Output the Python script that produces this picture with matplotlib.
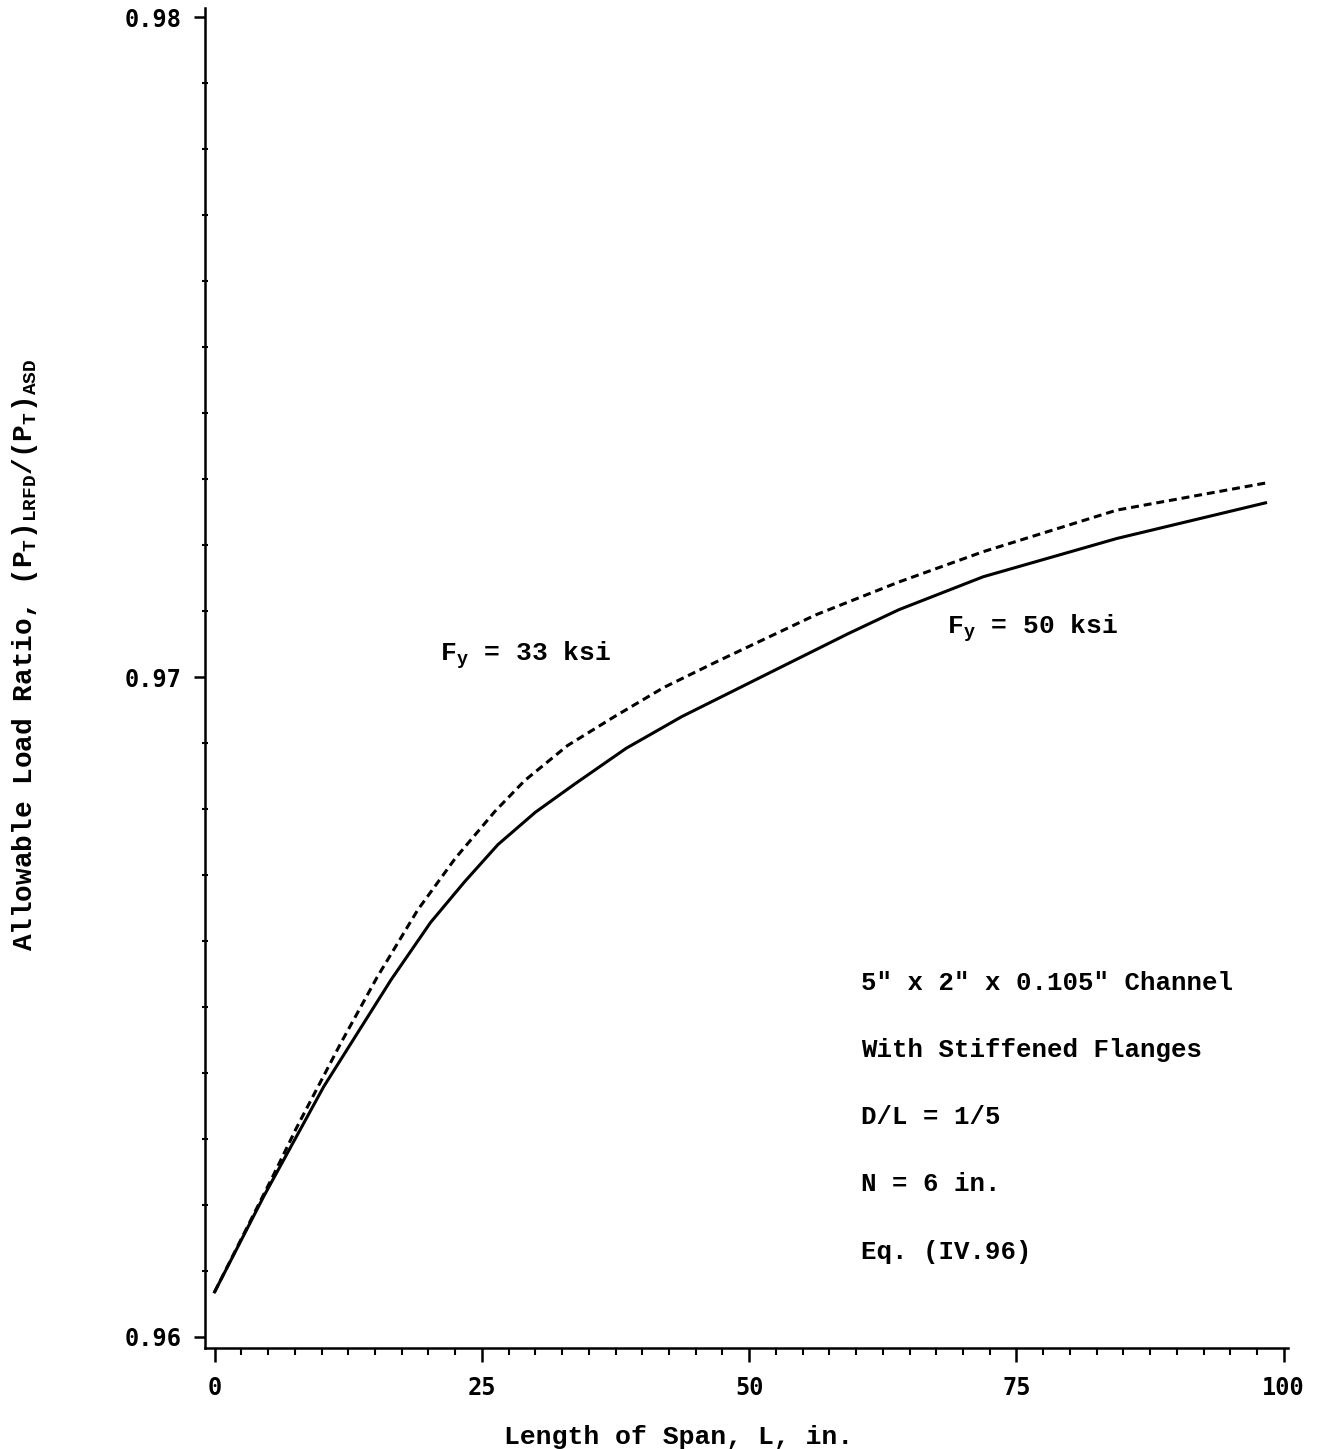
import numpy as np
import matplotlib
matplotlib.use('Agg')
from matplotlib import pyplot as plt
from matplotlib.ticker import MultipleLocator, FixedLocator

# Span length (in.) and load ratio
span_50 = [0, 4.6, 10.2, 16.5, 20.2, 23.4, 26.5, 30.0, 33.7, 38.5, 43.7,
           53.1, 59.3, 64.0, 71.9, 84.4, 98.3]
ratio_50 = [0.96068, 0.96213, 0.96379, 0.96541, 0.96628, 0.96690, 0.96746,
            0.96795, 0.96838, 0.96892, 0.96940, 0.97016, 0.97066, 0.97102,
            0.97152, 0.97210, 0.97264]

span_33 = [0, 5.5, 7.7, 11.8, 15.2, 19.0, 22.5, 26.2, 29.0, 33.0, 37.4,
           42.0, 46.8, 56.2, 64.0, 71.9, 84.4, 98.3]
ratio_33 = [0.96068, 0.96245, 0.96318, 0.96445, 0.96545, 0.96647, 0.96725,
            0.96796, 0.96843, 0.96896, 0.96940, 0.96984, 0.97022, 0.97094,
            0.97144, 0.97190, 0.97253, 0.97294]

x_ticks = [0, 25, 50, 75, 100]
x_tick_labels = ['0', '25', '50', '75', '100']
y_ticks = [0.96, 0.97, 0.98]
y_tick_labels = ['0.96', '0.97', '0.98']

notes = ['5" x 2" x 0.105" Channel', 'With Stiffened Flanges', 'D/L = 1/5',
         'N = 6 in.', 'Eq. (IV.96)']

plt.rcParams['mathtext.fontset'] = 'custom'
plt.rcParams['mathtext.rm'] = 'Liberation Mono:bold'
plt.rcParams['mathtext.it'] = 'Liberation Mono:bold'
plt.rcParams['mathtext.bf'] = 'Liberation Mono:bold'

MONO = 'Liberation Mono'

fig = plt.figure(figsize=(13.23, 14.49), dpi=100)
ax = fig.add_axes([205 / 1323, 1 - 1348 / 1449, 1083 / 1323, 1340 / 1449])

ax.plot(span_50, ratio_50, color='black', linewidth=2.2)
ax.plot(span_33, ratio_33, color='black', linewidth=2.2,
        linestyle=(0, (2.6, 1.6)))

ax.set_xlim(-0.9, 100.4)
ax.set_ylim(0.95983, 0.98014)

ax.spines['top'].set_visible(False)
ax.spines['right'].set_visible(False)
for side in ('left', 'bottom'):
    ax.spines[side].set_linewidth(1.8)

ax.xaxis.set_major_locator(FixedLocator(x_ticks))
ax.set_xticklabels(x_tick_labels)
ax.xaxis.set_minor_locator(MultipleLocator(2.5))
ax.yaxis.set_major_locator(FixedLocator(y_ticks))
ax.set_yticklabels(y_tick_labels)
ax.yaxis.set_minor_locator(MultipleLocator(0.001))

ax.tick_params(axis='x', which='major', direction='out', length=10, width=1.8,
               pad=10)
ax.tick_params(axis='x', which='minor', direction='out', length=5, width=1.5)
ax.tick_params(axis='y', which='major', direction='out', length=8, width=1.8,
               pad=9)
ax.tick_params(axis='y', which='minor', direction='inout', length=5, width=1.5)
for lab in ax.get_xticklabels() + ax.get_yticklabels():
    lab.set_fontfamily('DejaVu Sans Mono')
    lab.set_fontweight('bold')
    lab.set_fontsize(17)

ax.set_xlabel('Length of Span, L, in.', fontfamily=MONO, fontweight='bold',
              fontsize=19)
ax.xaxis.set_label_coords(0.437, -0.0575)
ax.set_ylabel(r'Allowable Load Ratio, $\mathregular{(P_T)_{LRFD}/(P_T)_{ASD}}$',
              fontfamily=MONO, fontweight='bold', fontsize=20)
ax.yaxis.set_label_coords(-0.152, 0.517)

ax.text(21.1, 0.97033, r'$\mathregular{F_y}$ = 33 ksi', fontfamily=MONO,
        fontweight='bold', fontsize=19, va='center', ha='left')
ax.text(68.5, 0.97074, r'$\mathregular{F_y}$ = 50 ksi', fontfamily=MONO,
        fontweight='bold', fontsize=19, va='center', ha='left')

for i, line in enumerate(notes):
    ax.text(60.5, 0.965364 - i * 0.001018, line, fontfamily=MONO,
            fontweight='bold', fontsize=18.5, va='center', ha='left')

fig.savefig('out.png', dpi=100)
